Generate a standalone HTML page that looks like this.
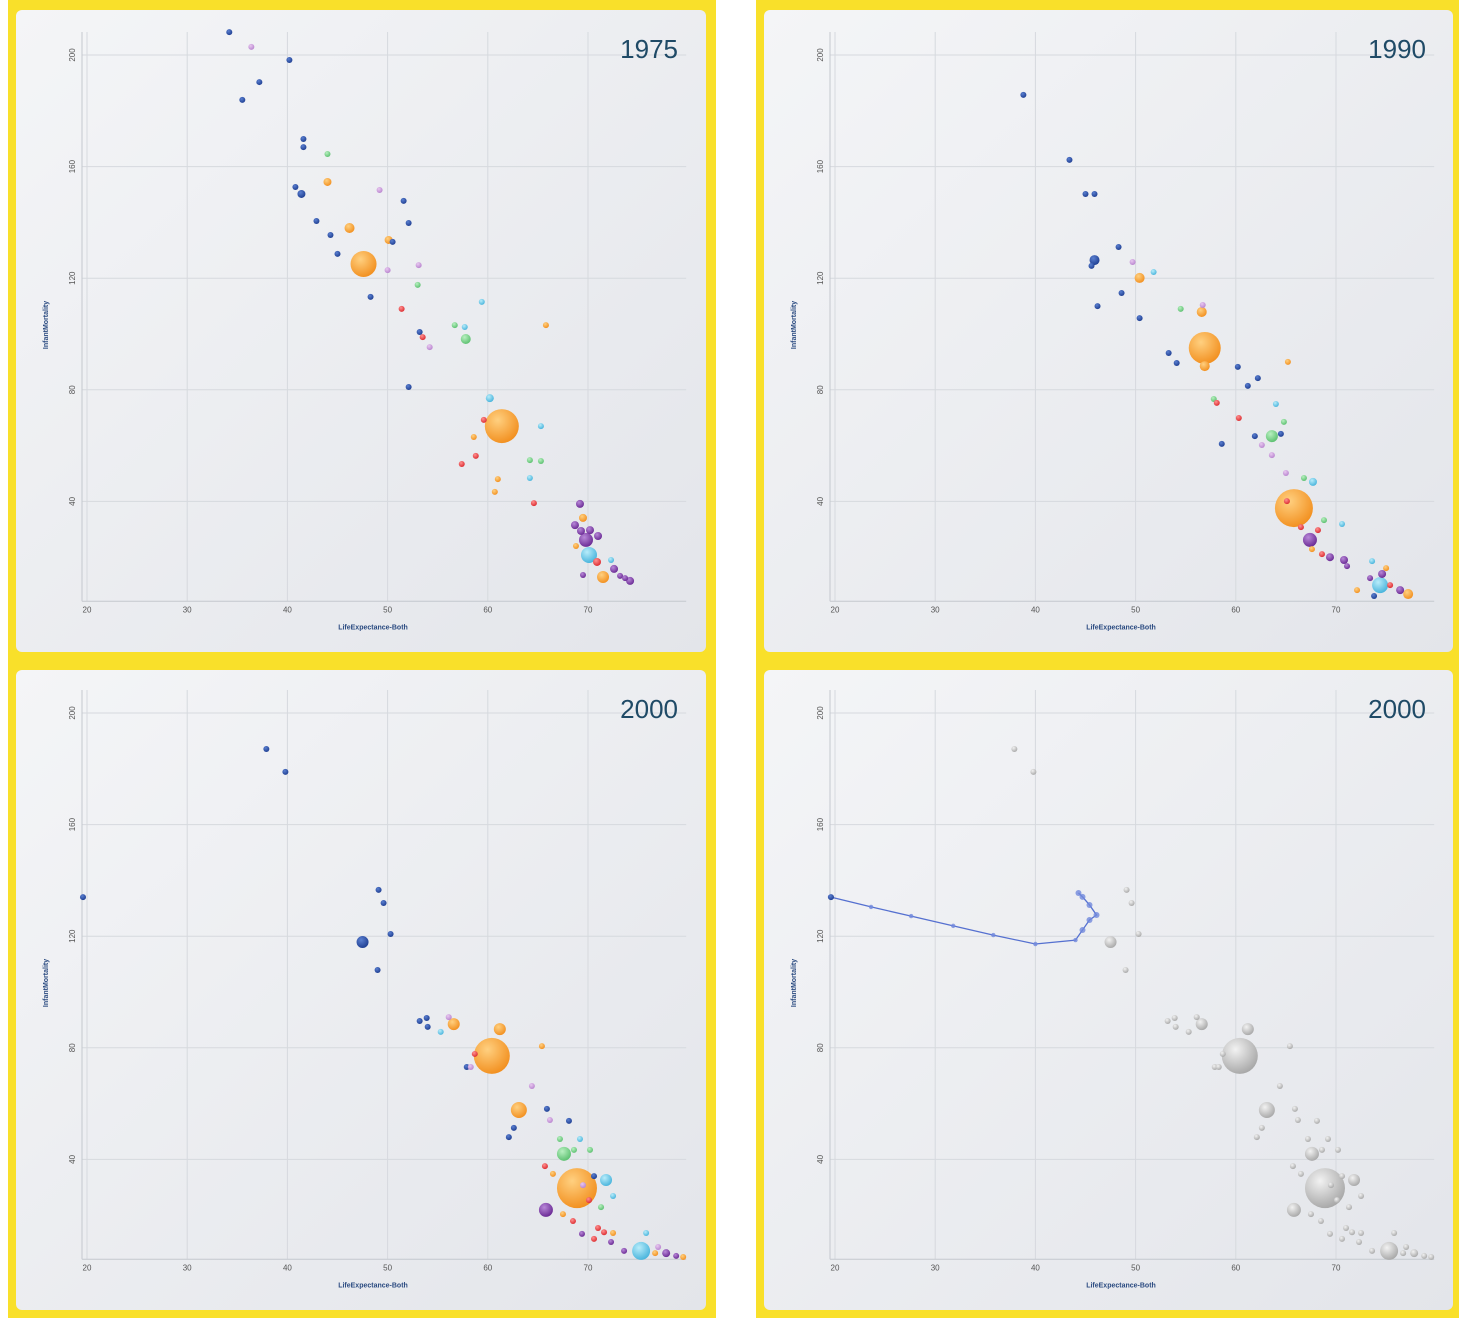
<!DOCTYPE html>
<html><head><meta charset="utf-8">
<style>
html,body{margin:0;padding:0;background:#fff;}
svg{display:block;font-family:"Liberation Sans",sans-serif;}
</style></head>
<body>
<svg id="root" width="1459" height="1318" viewBox="0 0 1459 1318" xmlns="http://www.w3.org/2000/svg">
<defs>
<linearGradient id="panelbg" x1="0" y1="0" x2="1" y2="1">
<stop offset="0" stop-color="#f4f5f7"/><stop offset="1" stop-color="#e3e5ea"/>
</linearGradient>
</defs>
<rect x="8" y="0" width="708" height="1318" fill="#f9e02a"/>
<rect x="756" y="0" width="703" height="1318" fill="#f9e02a"/>
<g id="charts"></g>
</svg>
<script>
const x1975 = [34.2,36.4,40.2,37.2,35.5,41.6,41.6,44.0,40.8,41.4,44.0,49.2,51.6,42.9,46.2,44.3,52.1,50.1,50.5,45.0,47.6,50.0,53.1,53.0,48.3,51.4,56.7,57.7,59.4,57.8,53.2,53.5,54.2,65.8,52.1,60.2,61.4,59.6,65.3,58.6,58.8,57.4,64.2,65.3,61.0,64.2,60.7,64.6,69.2,69.5,68.7,69.3,70.2,71.0,69.8,68.8,70.1,70.9,72.3,69.5,71.5,72.6,73.2,73.7,74.2];
const y1975 = [208.2,202.9,198.2,190.3,183.9,169.9,167,164.5,152.7,150.2,154.5,151.6,147.7,140.5,138,135.5,139.8,133.7,133,128.7,125.1,122.9,124.7,117.6,113.3,109,103.2,102.5,111.5,98.2,100.7,98.9,95.3,103.2,81,77,67,69.2,67,63.1,56.3,53.4,54.8,54.5,48,48.4,43.4,39.4,39.1,34.1,31.5,29.4,29.7,27.6,26.2,24,20.8,18.3,19,13.6,12.9,15.8,13.3,12.5,11.5];
const s1975 = [9,9,9,9,9,9,9,9,9,16,16,9,9,9,25,9,9,16,9,9,169,9,9,9,9,9,9,9,9,25,9,9,9,9,9,16,289,9,9,9,9,9,9,9,9,9,9,9,16,16,16,16,16,16,49,9,64,16,9,9,36,16,9,9,16];
const c1975 = ['b','p','b','b','b','b','b','g','b','b','o','p','b','b','o','b','b','o','b','b','o','p','p','g','b','r','g','t','t','g','b','r','p','o','b','t','o','r','t','o','r','r','g','g','o','t','o','r','u','o','u','u','u','u','u','o','t','r','t','u','o','u','u','u','u'];

const x1990 = [38.8,43.4,45.0,45.9,48.3,45.9,45.6,49.7,51.8,50.4,48.6,46.2,50.4,54.5,56.7,56.6,56.9,56.9,53.3,54.1,60.2,62.2,61.2,65.2,57.8,58.1,64.0,60.3,64.8,63.6,64.5,61.9,58.6,62.6,63.6,65.0,66.8,67.7,65.8,65.1,68.8,70.6,66.5,68.2,67.4,67.6,68.6,69.4,70.8,71.1,73.6,75.0,74.6,73.4,74.4,75.4,72.1,76.4,77.2,73.8];
const y1990 = [185.7,162.4,150.2,150.2,131.2,126.5,124.4,125.8,122.2,120.1,114.7,110,105.7,109,110.4,107.9,95,88.5,93.2,89.6,88.2,84.2,81.4,90,76.7,75.3,74.9,69.9,68.5,63.4,64.2,63.4,60.6,60.2,56.6,50.2,48.4,47,37.6,40.1,33.3,31.9,30.8,29.7,26.2,22.9,21.1,20,19,16.8,18.6,16.1,14,12.5,10,10,8.2,8.2,6.8,6.1];
const s1990 = [9,9,9,9,9,25,9,9,9,25,9,9,9,9,9,25,256,25,9,9,9,9,9,9,9,9,9,9,9,36,9,9,9,9,9,9,9,16,361,9,9,9,9,9,49,9,9,16,16,9,9,9,16,9,64,9,9,16,25,9];
const c1990 = ['b','b','b','b','b','b','b','p','t','o','b','b','b','g','p','o','o','o','b','b','b','b','b','o','g','r','t','r','g','g','b','b','b','p','p','p','g','t','o','r','g','t','r','r','u','o','r','u','u','u','t','o','u','u','t','r','o','u','o','b'];

const x2000 = [19.6,37.9,39.8,49.1,49.6,50.3,47.5,49.0,53.2,53.9,54.0,56.1,56.6,55.3,61.2,60.4,58.7,57.9,58.3,65.4,64.4,63.1,65.9,66.2,68.1,62.6,62.1,67.2,69.2,70.2,67.6,68.6,65.7,66.5,68.9,71.8,70.6,69.5,72.5,70.1,71.3,65.8,67.5,68.5,69.4,71.0,71.6,72.5,70.6,72.3,73.6,75.8,75.3,77.0,76.7,77.8,78.8,79.5];
const y2000 = [134,187.1,178.9,136.6,131.9,120.8,117.9,107.9,89.6,90.7,87.5,91,88.5,85.7,86.7,77.1,77.8,73.1,73.1,80.6,66.3,57.7,58.1,54.1,53.8,51.3,48,47.3,47.3,43.4,42,43.4,37.6,34.8,29.7,32.6,34,30.8,26.9,25.4,22.9,21.9,20.4,17.9,13.3,15.4,13.9,13.6,11.5,10.4,7.2,13.6,7.2,8.6,6.4,6.4,5.4,5];
const s2000 = [9,9,9,9,9,9,36,9,9,9,9,9,36,9,36,324,9,9,9,9,9,64,9,9,9,9,9,9,9,9,49,9,9,9,400,36,9,9,9,9,9,49,9,9,9,9,9,9,9,9,9,9,81,9,9,16,9,9];
const c2000 = ['b','b','b','b','b','b','b','b','b','b','b','p','o','t','o','o','r','b','p','o','p','o','b','p','b','b','b','g','t','g','g','g','r','o','o','t','b','p','t','r','g','u','o','r','u','r','r','o','r','u','u','t','t','p','o','u','u','o'];

const trailX = [44.3,44.7,45.4,46.1,45.4,44.7,44.0,40.0,35.8,31.8,27.6,23.6,19.5];
const trailY = [135.5,134.1,131.2,127.6,125.8,122.2,118.6,117.2,120.4,123.7,127.2,130.5,134.1];

const xTicks = [20,30,40,50,60,70];
const yTicks = [40,80,120,160,200];
const palette = {b:['#5a7fd0','#1f3f92'],o:['#ffd080','#f29020'],p:['#e8c8f0','#b985cf'],g:['#b8f0c0','#5cc070'],t:['#b8ecfa','#48b4dc'],r:['#ff9090','#dc2c30'],u:['#b888d8','#6a2a94'],x:['#f2f2f2','#a8a8a8']};

const NS = 'http://www.w3.org/2000/svg';
const defs = document.querySelector('defs');
for (const k in palette) {
  const g = document.createElementNS(NS,'radialGradient');
  g.setAttribute('id','grad-'+k); g.setAttribute('cx','0.38'); g.setAttribute('cy','0.32'); g.setAttribute('r','0.7');
  g.innerHTML = `<stop offset="0" stop-color="${palette[k][0]}"/><stop offset="1" stop-color="${palette[k][1]}"/>`;
  defs.appendChild(g);
}
function el(tag, attrs, parent){ const e=document.createElementNS(NS,tag); for(const a in attrs) e.setAttribute(a,attrs[a]); parent.appendChild(e); return e; }

const root = document.getElementById('charts');
const panels = [
  {px:16,py:10,w:690,h:642,x0:87,y200:55,title:'1975',X:x1975,Y:y1975,S:s1975,C:c1975,name:'panel-1975'},
  {px:764,py:10,w:689,h:642,x0:835,y200:55,title:'1990',X:x1990,Y:y1990,S:s1990,C:c1990,name:'panel-1990'},
  {px:16,py:670,w:690,h:640,x0:87,y200:713,title:'2000',X:x2000,Y:y2000,S:s2000,C:c2000,name:'panel-2000'},
  {px:764,py:670,w:689,h:640,x0:835,y200:713,title:'2000',X:x2000,Y:y2000,S:s2000,C:c2000,name:'panel-2000-trail',grey:true}
];
panels.forEach(P=>{
  const g = el('g',{},root);
  
  
  el('rect',{x:P.px,y:P.py,width:P.w,height:P.h,rx:6,fill:'url(#panelbg)'},g);
  const sx = v => P.x0 + (v-20)*10.02;
  const sy = v => P.y200 + (200-v)*2.79;
  const top = P.y200-23, bottom = sy(4.2), left = P.x0-5, right = sx(79.8);
  xTicks.forEach(t=>{
    el('line',{x1:sx(t),x2:sx(t),y1:top,y2:bottom,stroke:'#d6d9de','stroke-width':1},g);
    const tx = el('text',{x:sx(t),y:bottom+11,'font-size':8,fill:'#555','text-anchor':'middle'},g);
    tx.textContent=t;
    
    
  });
  yTicks.forEach(t=>{
    el('line',{x1:left,x2:right,y1:sy(t),y2:sy(t),stroke:'#d6d9de','stroke-width':1},g);
    const tx = el('text',{x:0,y:0,'font-size':8,fill:'#555','text-anchor':'middle',transform:`translate(${P.x0-12},${sy(t)}) rotate(-90)`},g);
    tx.textContent=t;
    
    
  });
  el('line',{x1:left,x2:left,y1:top,y2:bottom,stroke:'#c4c8ce'},g);
  el('line',{x1:left,x2:right,y1:bottom,y2:bottom,stroke:'#c4c8ce'},g);
  const xt = el('text',{x:P.x0+286,y:bottom+28,'font-size':7,'font-weight':'bold',fill:'#2a4a80','text-anchor':'middle'},g);
  xt.textContent='LifeExpectance-Both';
  
  
  const yt = el('text',{x:0,y:0,'font-size':7,'font-weight':'bold',fill:'#2a4a80','text-anchor':'middle',transform:`translate(${P.x0-39},${P.y200+270}) rotate(-90)`},g);
  yt.textContent='InfantMortality';
  
  
  const ti = el('text',{x:P.px+662,y:P.py+48,'font-size':26,fill:'#1f4a66','text-anchor':'end'},g);
  ti.textContent=P.title;
  
  
  const idx = P.X.map((_,i)=>i).sort((a,b)=>P.S[b]-P.S[a]);
  idx.forEach(i=>{
    if (P.grey && i===0) return;
    const r = Math.sqrt(P.S[i]);
    const c = el('circle',{cx:sx(P.X[i]),cy:sy(P.Y[i]),r:r,fill:`url(#grad-${P.grey?'x':P.C[i]})`},g);
    
    
  });
  if (P.grey) {
    const pts = trailX.map((v,i)=>sx(v)+','+sy(trailY[i])).join(' ');
    const pl = el('polyline',{points:pts,fill:'none',stroke:'#5570d0','stroke-width':1.3},g);
    
    
    trailX.forEach((v,i)=>{
      const d = el('circle',{cx:sx(v),cy:sy(trailY[i]),r:i<6?3:2.2,fill:'#7088dc','fill-opacity':0.8},g);
      
      
    });
    const hb = el('circle',{cx:sx(P.X[0]),cy:sy(P.Y[0]),r:3,fill:'url(#grad-b)'},g);
    
    
  }
});
</script>
</body></html>
